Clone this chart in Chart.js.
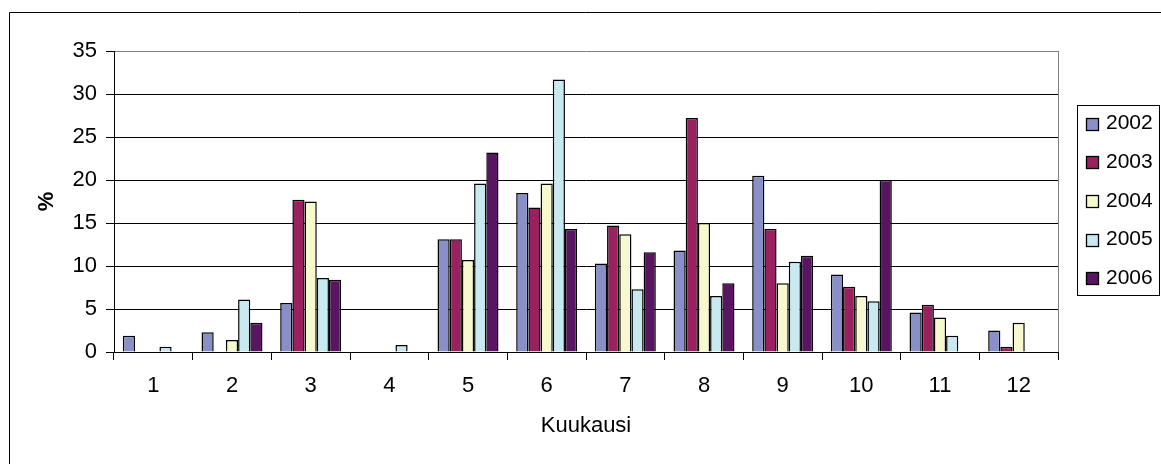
<!DOCTYPE html>
<html>
<head>
<meta charset="utf-8">
<title>Kuukausi</title>
<script src="https://cdn.jsdelivr.net/npm/chart.js@4/dist/chart.umd.min.js"></script>
<style>
  html, body { margin: 0; padding: 0; background: #fff; }
  #wrap { position: relative; width: 1161px; height: 464px; }
</style>
</head>
<body>
<div id="wrap"><canvas id="chart" width="1161" height="464"></canvas></div>
<script>
const months = ["1", "2", "3", "4", "5", "6", "7", "8", "9", "10", "11", "12"]
const years = ["2002", "2003", "2004", "2005", "2006"]
const colors = ["#8990c8", "#992160", "#f8f8ce", "#c9e9f1", "#5a1562"]

// percent of cases per month, one array per year
const v2002 = [1.9, 2.3, 5.7, 0, 13.1, 18.5, 10.3, 11.8, 20.5, 9.0, 4.6, 2.5]
const v2003 = [0, 0, 17.7, 0, 13.1, 16.8, 14.7, 27.2, 14.3, 7.6, 5.5, 0.6]
const v2004 = [0, 1.4, 17.5, 0, 10.7, 19.6, 13.7, 15.0, 8.0, 6.5, 4.0, 3.4]
const v2005 = [0.6, 6.1, 8.6, 0.8, 19.6, 31.7, 7.3, 6.5, 10.5, 5.9, 1.9, 0]
const v2006 = [0, 3.4, 8.4, 0, 23.2, 14.3, 11.6, 8.0, 11.2, 20.0, 0, 0]

const yMin = 0
const yMax = 35
const yStep = 5

const font = "'Liberation Sans', Arial, sans-serif"
const series = [v2002, v2003, v2004, v2005, v2006]

// outer frame, plot border on the right and the boxed legend
const frame = {
  id: "frame",
  afterDraw(chart) {
    const { ctx, chartArea: a } = chart
    ctx.save()

    ctx.strokeStyle = "#808080"
    ctx.lineWidth = 1
    ctx.beginPath()
    ctx.moveTo(Math.round(a.right) + 0.5, a.top)
    ctx.lineTo(Math.round(a.right) + 0.5, a.bottom)
    ctx.stroke()

    ctx.strokeStyle = "#000"
    ctx.beginPath()
    ctx.moveTo(9.5, 464)
    ctx.lineTo(9.5, 12.5)
    ctx.lineTo(1161, 12.5)
    ctx.stroke()

    // legend
    ctx.strokeRect(1077.5, 105.5, 82, 190)
    ctx.font = "21px " + font
    ctx.textBaseline = "middle"
    ctx.textAlign = "left"
    chart.data.datasets.forEach((ds, i) => {
      const cy = 123.5 + i * 38.7
      ctx.fillStyle = ds.backgroundColor
      ctx.fillRect(1086.5, Math.round(cy - 6) + 0.5, 12, 12)
      ctx.strokeStyle = "#000"
      ctx.lineWidth = 1.3
      ctx.strokeRect(1086.5, Math.round(cy - 6) + 0.5, 12, 12)
      ctx.fillStyle = "#000"
      ctx.fillText(ds.label, 1106, cy)
    })
    ctx.restore()
  },
}

new Chart(document.getElementById("chart"), {
  type: "bar",
  data: {
    labels: months,
    datasets: years.map((y, i) => ({
      label: y,
      data: series[i],
      backgroundColor: colors[i],
      borderColor: "#000",
      borderWidth: 1.5,
      borderSkipped: "start",
      categoryPercentage: 0.775,
      barPercentage: 1.0,
    })),
  },
  options: {
    responsive: false,
    animation: false,
    layout: { padding: { left: 20, top: 51, right: 103, bottom: 0 } },
    plugins: {
      legend: { display: false },
      tooltip: { enabled: false },
    },
    scales: {
      x: {
        grid: {
          offset: true,
          drawOnChartArea: false,
          drawTicks: true,
          tickLength: 8,
          color: "#000",
        },
        border: { color: "#000", width: 1 },
        ticks: { color: "#000", font: { family: font, size: 22 }, padding: 13, maxRotation: 0 },
        title: {
          display: true,
          text: "Kuukausi",
          color: "#000",
          font: { family: font, size: 22 },
          padding: { top: 0, bottom: 25 },
        },
        afterFit: (scale) => {
          scale.height = 112
        },
      },
      y: {
        min: yMin,
        max: yMax,
        grid: {
          color: (c) => (c.tick && c.tick.value === yMax ? "#808080" : "#000"),
          tickColor: "#000",
          tickLength: 8,
          lineWidth: 1,
        },
        border: { color: "#000", width: 1 },
        ticks: { stepSize: yStep, color: "#000", font: { family: font, size: 22 }, padding: 9 },
        title: {
          display: true,
          text: "%",
          color: "#000",
          font: { family: font, size: 22, weight: "bold" },
          padding: { top: 14, bottom: 0 },
        },
        afterFit: (scale) => {
          scale.width = 94
        },
      },
    },
  },
  plugins: [frame],
})
</script>
</body>
</html>
